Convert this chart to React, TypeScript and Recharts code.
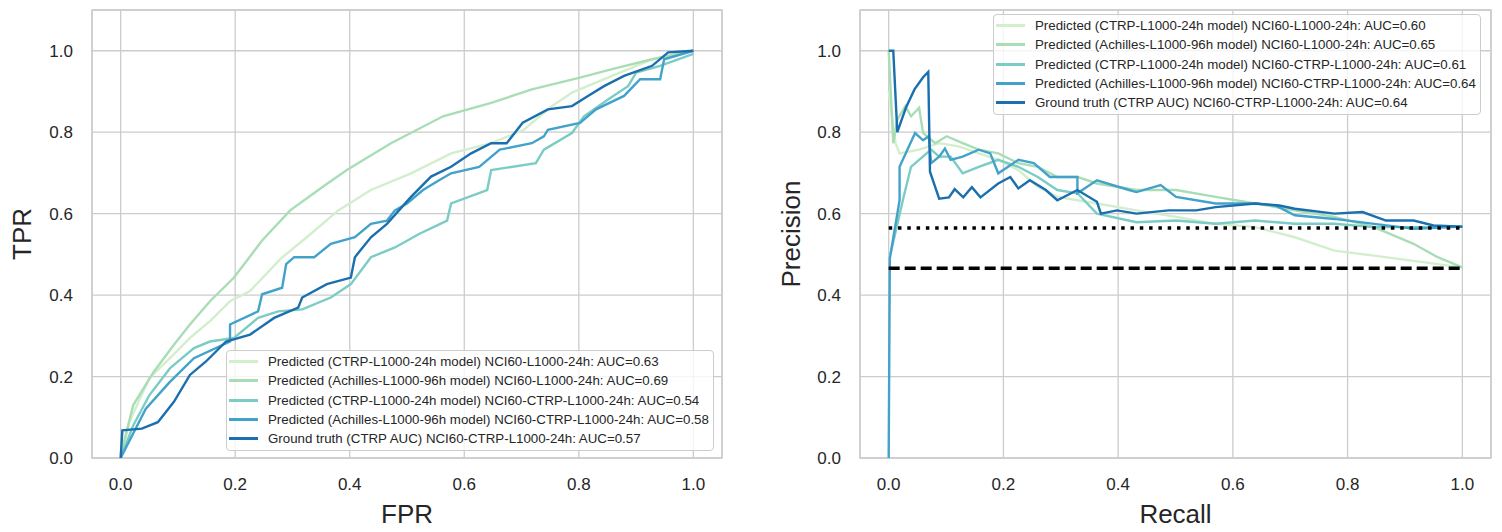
import React from "react"
import { LineChart, Line, XAxis, YAxis, CartesianGrid, ReferenceArea } from "recharts"

type Pt = [number, number]

const ticks = [0, 0.2, 0.4, 0.6, 0.8, 1.0]
const colors = ["#d3eecd", "#a8ddb5", "#7bccc4", "#43a2ca", "#1b6fae"]

const rocLabels = [
  "Predicted (CTRP-L1000-24h model) NCI60-L1000-24h: AUC=0.63",
  "Predicted (Achilles-L1000-96h model) NCI60-L1000-24h: AUC=0.69",
  "Predicted (CTRP-L1000-24h model) NCI60-CTRP-L1000-24h: AUC=0.54",
  "Predicted (Achilles-L1000-96h model) NCI60-CTRP-L1000-24h: AUC=0.58",
  "Ground truth (CTRP AUC) NCI60-CTRP-L1000-24h: AUC=0.57",
]
const prLabels = [
  "Predicted (CTRP-L1000-24h model) NCI60-L1000-24h: AUC=0.60",
  "Predicted (Achilles-L1000-96h model) NCI60-L1000-24h: AUC=0.65",
  "Predicted (CTRP-L1000-24h model) NCI60-CTRP-L1000-24h: AUC=0.61",
  "Predicted (Achilles-L1000-96h model) NCI60-CTRP-L1000-24h: AUC=0.64",
  "Ground truth (CTRP AUC) NCI60-CTRP-L1000-24h: AUC=0.64",
]

// ROC curves (FPR, TPR)
const rocCtrpL1000: Pt[] = [
  [0, 0], [0.015, 0.088], [0.05, 0.196], [0.086, 0.245], [0.121, 0.295], [0.156, 0.336],
  [0.191, 0.385], [0.226, 0.41], [0.28, 0.49], [0.325, 0.542], [0.38, 0.608], [0.437, 0.658],
  [0.507, 0.699], [0.577, 0.748], [0.647, 0.773], [0.704, 0.806], [0.753, 0.864], [0.788, 0.897],
  [0.858, 0.938], [0.928, 0.979], [1, 1],
]
const rocAchL1000: Pt[] = [
  [0, 0.006], [0.022, 0.13], [0.058, 0.212], [0.093, 0.278], [0.121, 0.328], [0.156, 0.385],
  [0.198, 0.443], [0.247, 0.534], [0.296, 0.608], [0.353, 0.666], [0.395, 0.707], [0.472, 0.773],
  [0.563, 0.839], [0.647, 0.872], [0.718, 0.905], [0.802, 0.934], [0.858, 0.955], [0.928, 0.979],
  [1, 1],
]
const rocCtrpCtrp: Pt[] = [
  [0, 0], [0.022, 0.08], [0.05, 0.154], [0.086, 0.22], [0.128, 0.27], [0.156, 0.286],
  [0.198, 0.295], [0.24, 0.344], [0.275, 0.36], [0.317, 0.365], [0.367, 0.394], [0.402, 0.427],
  [0.437, 0.493], [0.479, 0.517], [0.521, 0.55], [0.57, 0.583], [0.577, 0.625], [0.64, 0.658],
  [0.647, 0.707], [0.725, 0.724], [0.739, 0.757], [0.788, 0.798], [0.809, 0.839], [0.851, 0.88],
  [0.886, 0.913], [0.9, 0.946], [0.942, 0.963], [1, 0.992],
]
const rocAchCtrp: Pt[] = [
  [0, 0], [0.044, 0.121], [0.086, 0.187], [0.128, 0.245], [0.191, 0.286], [0.191, 0.328],
  [0.24, 0.36], [0.247, 0.402], [0.282, 0.418], [0.289, 0.476], [0.303, 0.493], [0.338, 0.493],
  [0.367, 0.526], [0.409, 0.542], [0.437, 0.575], [0.465, 0.583], [0.479, 0.608], [0.5, 0.625],
  [0.528, 0.658], [0.556, 0.682], [0.577, 0.699], [0.626, 0.715], [0.662, 0.757], [0.718, 0.773],
  [0.739, 0.79], [0.746, 0.806], [0.802, 0.823], [0.83, 0.856], [0.879, 0.889], [0.907, 0.93],
  [0.942, 0.93], [0.949, 0.979], [1, 1],
]
const rocTruth: Pt[] = [
  [0, 0], [0.003, 0.068], [0.037, 0.072], [0.065, 0.088], [0.093, 0.138], [0.121, 0.204],
  [0.149, 0.237], [0.184, 0.286], [0.226, 0.303], [0.268, 0.344], [0.31, 0.369], [0.317, 0.394],
  [0.36, 0.427], [0.402, 0.443], [0.409, 0.493], [0.437, 0.542], [0.465, 0.575], [0.507, 0.641],
  [0.542, 0.691], [0.577, 0.715], [0.612, 0.748], [0.647, 0.773], [0.674, 0.773], [0.702, 0.823],
  [0.746, 0.856], [0.788, 0.864], [0.816, 0.889], [0.844, 0.913], [0.879, 0.938], [0.928, 0.963],
  [0.956, 0.996], [1, 1],
]

// PR curves (Recall, Precision)
const prCtrpL1000: Pt[] = [
  [0, 0.9], [0.012, 0.773], [0.019, 0.748], [0.053, 0.757], [0.088, 0.773], [0.122, 0.765],
  [0.157, 0.748], [0.191, 0.732], [0.226, 0.707], [0.26, 0.666], [0.294, 0.641], [0.363, 0.625],
  [0.432, 0.608], [0.501, 0.592], [0.57, 0.575], [0.639, 0.567], [0.708, 0.542], [0.777, 0.509],
  [0.846, 0.497], [0.915, 0.484], [1, 0.468],
]
const prAchL1000: Pt[] = [
  [0, 1], [0.008, 0.773], [0.015, 0.831], [0.029, 0.864], [0.039, 0.839], [0.053, 0.86],
  [0.06, 0.798], [0.081, 0.773], [0.101, 0.79], [0.129, 0.773], [0.157, 0.757], [0.191, 0.748],
  [0.226, 0.724], [0.26, 0.715], [0.294, 0.69], [0.329, 0.69], [0.363, 0.674], [0.432, 0.658],
  [0.501, 0.658], [0.57, 0.641], [0.639, 0.625], [0.708, 0.608], [0.777, 0.592], [0.846, 0.567],
  [0.915, 0.526], [0.957, 0.493], [1, 0.468],
]
const prCtrpCtrp: Pt[] = [
  [0.003, 0.5], [0.026, 0.641], [0.039, 0.715], [0.053, 0.732], [0.074, 0.757], [0.088, 0.74],
  [0.108, 0.74], [0.129, 0.699], [0.157, 0.715], [0.191, 0.732], [0.226, 0.715], [0.26, 0.69],
  [0.294, 0.658], [0.329, 0.65], [0.363, 0.6], [0.432, 0.579], [0.501, 0.583], [0.57, 0.575],
  [0.639, 0.583], [0.708, 0.575], [0.777, 0.575], [0.846, 0.567], [0.915, 0.567], [1, 0.568],
]
const prAchCtrp: Pt[] = [
  [0, 0], [0.002, 0.49], [0.019, 0.633], [0.019, 0.715], [0.046, 0.798], [0.06, 0.78],
  [0.07, 0.79], [0.074, 0.724], [0.088, 0.74], [0.098, 0.76], [0.108, 0.732], [0.129, 0.74],
  [0.157, 0.757], [0.177, 0.748], [0.191, 0.699], [0.226, 0.732], [0.253, 0.724], [0.281, 0.69],
  [0.329, 0.69], [0.329, 0.65], [0.363, 0.682], [0.419, 0.658], [0.432, 0.653], [0.474, 0.67],
  [0.501, 0.641], [0.57, 0.625], [0.639, 0.625], [0.674, 0.62], [0.708, 0.596], [0.777, 0.587],
  [0.846, 0.575], [0.915, 0.563], [1, 0.568],
]
const prTruth: Pt[] = [
  [0, 1], [0.008, 1], [0.015, 0.8], [0.03, 0.86], [0.045, 0.905], [0.06, 0.935], [0.069, 0.948],
  [0.072, 0.703], [0.088, 0.637], [0.105, 0.64], [0.115, 0.66], [0.13, 0.64], [0.145, 0.665],
  [0.16, 0.64], [0.191, 0.674], [0.212, 0.69], [0.226, 0.662], [0.246, 0.682], [0.274, 0.658],
  [0.294, 0.633], [0.329, 0.658], [0.363, 0.629], [0.37, 0.6], [0.398, 0.608], [0.432, 0.6],
  [0.488, 0.608], [0.536, 0.608], [0.57, 0.616], [0.639, 0.625], [0.681, 0.62], [0.708, 0.612],
  [0.777, 0.6], [0.826, 0.604], [0.867, 0.583], [0.915, 0.583], [0.95, 0.571], [1, 0.568],
]
const prBaselineTruth: Pt[] = [[0, 0.565], [1, 0.565]]
const prBaselineL1000: Pt[] = [[0, 0.466], [1, 0.466]]

const rocSeries = [rocCtrpL1000, rocAchL1000, rocCtrpCtrp, rocAchCtrp, rocTruth]
const prSeries = [prCtrpL1000, prAchL1000, prCtrpCtrp, prAchCtrp, prTruth]

const font = "'Liberation Sans', Arial, sans-serif"
const text = "#262626"
const toRows = (pts: Pt[]) => pts.map(([x, y]) => ({ x, y }))

function Legend({ labels, left, top }: { labels: string[]; left: number; top: number }) {
  return (
    <div
      style={{
        position: "absolute", left, top, background: "rgba(255,255,255,0.8)",
        border: "1px solid #cccccc", borderRadius: 4, padding: "1px 4px 2px 2px",
        fontFamily: font, fontSize: 13.3, color: text, lineHeight: "19.3px",
      }}
    >
      {labels.map((l, i) => (
        <div key={l} style={{ display: "flex", alignItems: "center", height: 19.3, whiteSpace: "nowrap" }}>
          <span style={{ width: 29, height: 3, background: colors[i], marginRight: 10, display: "inline-block" }} />
          {l}
        </div>
      ))}
    </div>
  )
}

function Panel({
  series, xLabel, yLabel, width, margin, labelOffset, baselines,
}: {
  series: Pt[][]; xLabel: string; yLabel: string; width: number
  margin: { top: number; right: number; bottom: number; left: number }
  labelOffset: number; baselines?: boolean
}) {
  return (
    <LineChart width={width} height={532} margin={margin}>
      <CartesianGrid stroke="#cccccc" strokeWidth={1.3} />
      <XAxis
        type="number" dataKey="x" domain={[-0.05, 1.05]} ticks={ticks} allowDataOverflow
        tickFormatter={(v: number) => v.toFixed(1)} height={74} tickSize={0} tickMargin={20}
        axisLine={false} tick={{ fontSize: 17, fill: text, fontFamily: font }}
        label={{ value: xLabel, position: "insideBottom", offset: 9, style: { fontSize: 26, fill: text, fontFamily: font } }}
      />
      <YAxis
        type="number" domain={[0, 1.1]} ticks={ticks} allowDataOverflow width={80}
        tickFormatter={(v: number) => v.toFixed(1)} tickSize={0} tickMargin={19}
        axisLine={false} tick={{ fontSize: 17, fill: text, fontFamily: font }}
        label={{ value: yLabel, angle: -90, position: "insideLeft", offset: labelOffset, style: { fontSize: 26, fill: text, fontFamily: font, textAnchor: "middle" } }}
      />
      <ReferenceArea x1={-0.05} x2={1.05} y1={0} y2={1.1} fill="none" stroke="#cccccc" strokeWidth={1.5} />
      {series.map((s, i) => (
        <Line
          key={i} data={toRows(s)} dataKey="y" stroke={colors[i]} strokeWidth={2.4}
          dot={false} isAnimationActive={false} type="linear"
        />
      ))}
      {baselines && (
        <Line data={toRows(prBaselineTruth)} dataKey="y" stroke="#000" strokeWidth={3.5}
          strokeDasharray="3.5 5.8" dot={false} isAnimationActive={false} />
      )}
      {baselines && (
        <Line data={toRows(prBaselineL1000)} dataKey="y" stroke="#000" strokeWidth={3.5}
          strokeDasharray="11 5" dot={false} isAnimationActive={false} />
      )}
    </LineChart>
  )
}

export default function App() {
  return (
    <div style={{ position: "absolute", left: 0, top: 0, width: 1502, height: 532, background: "#fff", overflow: "hidden" }}>
      <div style={{ position: "absolute", left: 0, top: 0 }}>
        <Panel series={rocSeries} xLabel="FPR" yLabel="TPR" width={760}
          margin={{ top: 10, right: 38, bottom: 0, left: 12 }} labelOffset={10} />
      </div>
      <div style={{ position: "absolute", left: 760, top: 0 }}>
        <Panel series={prSeries} xLabel="Recall" yLabel="Precision" width={742}
          margin={{ top: 10, right: 11, bottom: 0, left: 20 }} labelOffset={11} baselines />
      </div>
      <Legend labels={rocLabels} left={226} top={350} />
      <Legend labels={prLabels} left={993} top={14} />
    </div>
  )
}
